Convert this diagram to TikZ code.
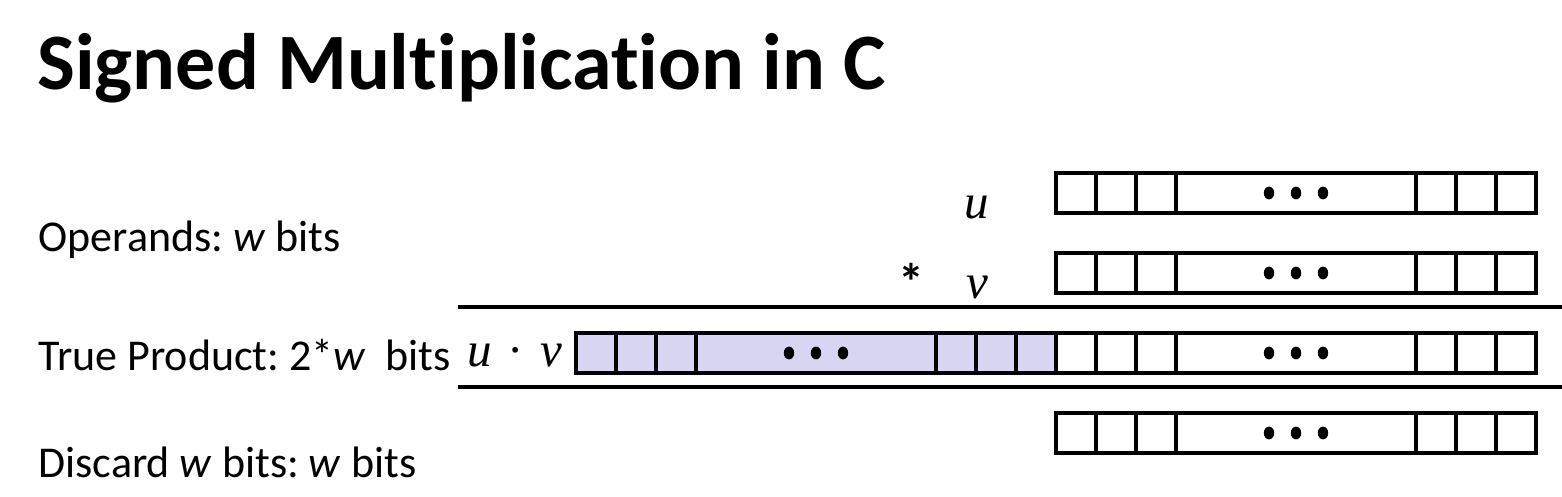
\documentclass[tikz,border=0pt]{standalone}
\usepackage{xcolor}
\usepackage{fontspec}
\setmainfont{Carlito}[Ligatures={NoCommon}]
\newfontfamily\timesfont{Liberation Serif}
\usepackage{tikz}
\usetikzlibrary{positioning}
\frenchspacing

\definecolor{prodfill}{RGB}{214,214,242}

\begin{document}
\begin{tikzpicture}[x=0.5pt, y=-0.5pt,
    cell/.style={draw, line width=1.65pt, minimum height=20pt, inner sep=0pt, outer sep=0pt, anchor=north west},
    rule/.style={line width=1.65pt},
    headline/.style={anchor=base west, inner sep=0pt, font=\fontsize{40}{48}\selectfont\bfseries},
    rowtxt/.style={anchor=base west, inner sep=0pt, font=\fontsize{22}{26}\selectfont},
    mathvar/.style={anchor=base west, inner sep=0pt, font=\fontsize{24.5}{28}\timesfont\itshape}]
    \useasboundingbox (0,0) rectangle (1562,497);

    % title and row labels
    \node[headline] (title) at (37,90) {Signed Multiplication in C};
    \node[rowtxt] (ops) at (38,251) {Operands: \textit{w} bits};
    \node[rowtxt] (prod) at (38,370) {True Product: 2*\textit{w}\ \ bits};
    \node[rowtxt] (disc) at (38,477) {Discard \textit{w} bits: \textit{w} bits};

    % operands
    \node[mathvar] (u) at (964,219) {u};
    \node[mathvar] (v) at (966,298) {v};
    \node[rowtxt, font=\fontsize{26}{30}\selectfont\bfseries] (times) at (898,300) {*};
    \node[mathvar] (uv) at (467,366) {u\hspace{8pt}{\upshape\textperiodcentered}\hspace{8pt}v};

    % w-bit words
    \foreach \w/\y in {u/173, v/253, p/333, d/413} {
        \foreach \i/\dx/\cw in {1/0/40, 2/40/40, 3/80/40, 4/120/240, 5/360/40, 6/400/40, 7/440/40}
            \node[cell, minimum width=\cw*0.5pt] (\w\i) at (1056+\dx,\y) {};
        \foreach \k in {-27,0,27}
            \fill ([xshift=\k*0.5pt]\w4.center) ellipse [x radius=2.6pt, y radius=3.2pt];
    }

    % upper half of the product
    \foreach \i/\dx/\cw in {1/0/40, 2/40/40, 3/80/40, 4/120/240, 5/360/40, 6/400/40, 7/440/40}
        \node[cell, fill=prodfill, minimum width=\cw*0.5pt] (h\i) at (576+\dx,333) {};
    \foreach \k in {-27,0,27}
        \fill ([xshift=\k*0.5pt]h4.center) ellipse [x radius=2.6pt, y radius=3.2pt];

    % rules
    \coordinate (r1a) at (458,307);
    \coordinate (r1b) at (1562,307);
    \coordinate (r2a) at (458,387);
    \coordinate (r2b) at (1562,387);
    \draw[rule] (r1a) -- (r1b);
    \draw[rule] (r2a) -- (r2b);
\end{tikzpicture}
\end{document}
